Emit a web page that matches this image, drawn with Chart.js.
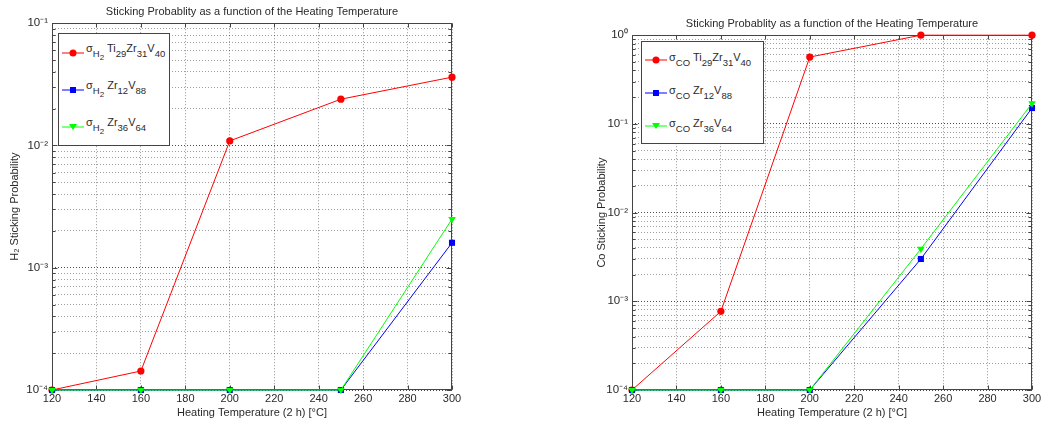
<!DOCTYPE html>
<html>
<head>
<meta charset="utf-8">
<title>Sticking Probability</title>
<script src="https://cdn.jsdelivr.net/npm/chart.js@4.4.1/dist/chart.umd.min.js"></script>
<style>
  body { margin: 0; background: #fff; width: 1044px; height: 424px; overflow: hidden; font-family: "Liberation Sans", Arial, sans-serif; }
  .panel { position: absolute; top: 0; height: 424px; }
  #panel-h2 { left: 0; width: 500px; }
  #panel-co { left: 560px; width: 484px; }
  .legend { position: absolute; background: #fff; border: 1px solid #444; box-sizing: border-box; }
  #panel-h2 .legend { left: 58px; top: 33px; width: 112px; height: 113px; }
  #panel-co .legend { left: 81px; top: 41px; width: 123px; height: 103px; padding-top: 1px; }
  .legend .row { display: flex; align-items: center; }
  #panel-h2 .row { height: 37px; }
  #panel-co .row { height: 33px; }
  .legend svg { margin-left: 3px; flex: none; }
  .legend .txt { font-size: 11px; color: #2a2a2a; margin-left: 2px; position: relative; top: -3px; white-space: nowrap; }
  .legend sub { font-size: 9.5px; vertical-align: -5px; line-height: 0; }
  .legend sub sub { font-size: 8px; vertical-align: -3px; }
</style>
</head>
<body>
<div class="panel" id="panel-h2">
  <canvas id="chartH2" width="500" height="424"></canvas>
  <div class="legend" id="legend-h2"></div>
</div>
<div class="panel" id="panel-co">
  <canvas id="chartCO" width="484" height="424"></canvas>
  <div class="legend" id="legend-co"></div>
</div>
<script>
// --- data ---
const temps = [120, 160, 200, 250, 300];
const xTicks = [120, 140, 160, 180, 200, 220, 240, 260, 280, 300];

// H2 sticking probability
const h2Ti29Zr31V40 = [1e-4, 1.43e-4, 0.0109, 0.0239, 0.0362];
const h2Zr12V88 = [1e-4, 1e-4, 1e-4, 1e-4, 1.6e-3];
const h2Zr36V64 = [1e-4, 1e-4, 1e-4, 1e-4, 2.5e-3];
const h2Decades = [-4, -3, -2, -1];
const h2Labels = [
  'σ<sub>H<sub>2</sub></sub> Ti<sub>29</sub>Zr<sub>31</sub>V<sub>40</sub>',
  'σ<sub>H<sub>2</sub></sub> Zr<sub>12</sub>V<sub>88</sub>',
  'σ<sub>H<sub>2</sub></sub> Zr<sub>36</sub>V<sub>64</sub>'
];

// CO sticking probability
const coTi29Zr31V40 = [1e-4, 7.7e-4, 0.567, 1, 1];
const coZr12V88 = [1e-4, 1e-4, 1e-4, 3.0e-3, 0.151];
const coZr36V64 = [1e-4, 1e-4, 1e-4, 3.9e-3, 0.17];
const coDecades = [-4, -3, -2, -1, 0];
const coLabels = [
  'σ<sub>CO</sub> Ti<sub>29</sub>Zr<sub>31</sub>V<sub>40</sub>',
  'σ<sub>CO</sub> Zr<sub>12</sub>V<sub>88</sub>',
  'σ<sub>CO</sub> Zr<sub>36</sub>V<sub>64</sub>'
];

const titleText = 'Sticking Probablity as a function of the Heating Temperature';
const xTitle = 'Heating Temperature (2 h) [°C]';

// --- styles ---
const colors = ['#ff0000', '#0000ff', '#00ff00'];
const markers = [
  { style: 'circle', radius: 3.6, rotation: 0 },
  { style: 'rect', radius: 4.3, rotation: 0 },
  { style: 'triangle', radius: 4.3, rotation: 180 }
];
const FONT = '"Liberation Sans", Arial, sans-serif';
const TEXT = '#2a2a2a';

const SUP = { '-': '⁻', '0': '⁰', '1': '¹', '2': '²', '3': '³', '4': '⁴', '5': '⁵' };
const powLabel = e => '10' + String(e).split('').map(c => SUP[c]).join('');
const isDecade = v => { const e = Math.log10(v); return Math.abs(e - Math.round(e)) < 1e-6; };

// 1..9 x 10^n for every decade, ending at the top decade
function logTicks(decades) {
  const out = [];
  for (let i = 0; i < decades.length - 1; i++) {
    for (let m = 1; m <= 9; m++) out.push(Number((m * Math.pow(10, decades[i])).toPrecision(10)));
  }
  out.push(Math.pow(10, decades[decades.length - 1]));
  return out;
}

// box round the plot and small inward tick marks (matlab style)
const framePlugin = {
  id: 'frame',
  beforeDatasetsDraw(chart) {
    const { ctx, chartArea: a, scales } = chart;
    const L = Math.round(a.left) + 0.5, R = Math.round(a.right) - 0.5;
    const T = Math.round(a.top) + 0.5, B = Math.round(a.bottom) - 0.5;
    ctx.save();
    ctx.strokeStyle = '#444';
    ctx.lineWidth = 1;
    ctx.beginPath();
    scales.x.ticks.forEach(t => {
      const px = Math.round(scales.x.getPixelForValue(t.value)) + 0.5;
      ctx.moveTo(px, B); ctx.lineTo(px, B - 4);
      ctx.moveTo(px, T); ctx.lineTo(px, T + 4);
    });
    scales.y.ticks.forEach(t => {
      const len = isDecade(t.value) ? 5 : 3;
      const py = Math.round(scales.y.getPixelForValue(t.value)) + 0.5;
      ctx.moveTo(L, py); ctx.lineTo(L + len, py);
      ctx.moveTo(R, py); ctx.lineTo(R - len, py);
    });
    ctx.stroke();
    ctx.strokeRect(L, T, R - L, B - T);
    ctx.restore();
  }
};

function buildLegend(el, labels) {
  labels.forEach((html, i) => {
    const c = colors[i];
    let mark;
    if (markers[i].style === 'circle') mark = `<circle cx="11" cy="6" r="3.5" fill="${c}"/>`;
    else if (markers[i].style === 'rect') mark = `<rect x="8" y="3" width="6" height="6" fill="${c}"/>`;
    else mark = `<polygon points="7,3 15,3 11,9" fill="${c}"/>`;
    const row = document.createElement('div');
    row.className = 'row';
    row.innerHTML = `<svg width="22" height="12"><line x1="0" y1="6" x2="22" y2="6" stroke="${c}" stroke-width="1"/>${mark}</svg><span class="txt">${html}</span>`;
    el.appendChild(row);
  });
}

function makeChart(id, series, decades, yTitle, opt) {
  const yValues = logTicks(decades);
  const datasets = series.map((vals, i) => ({
    data: temps.map((t, k) => ({ x: t, y: vals[k] })),
    borderColor: colors[i],
    backgroundColor: colors[i],
    borderWidth: 1,
    pointStyle: markers[i].style,
    pointRadius: markers[i].radius,
    pointRotation: markers[i].rotation,
    pointBorderWidth: 0,
    order: series.length - i,
    clip: false
  }));
  return new Chart(document.getElementById(id), {
    type: 'line',
    data: { datasets },
    plugins: [framePlugin],
    options: {
      responsive: false,
      animation: false,
      devicePixelRatio: 1,
      layout: { padding: { left: 0, right: opt.padRight, top: 0, bottom: 4 } },
      plugins: {
        legend: { display: false },
        tooltip: { enabled: false },
        title: {
          display: true, text: titleText, color: TEXT, fullSize: false,
          font: { family: FONT, size: 11, weight: 'normal' },
          padding: { top: opt.titleTop, bottom: opt.titleBottom }
        }
      },
      scales: {
        x: {
          type: 'linear', min: temps[0], max: temps[temps.length - 1],
          afterBuildTicks: s => { s.ticks = xTicks.map(v => ({ value: v })); },
          afterFit: s => { s.height = 30; },
          ticks: { color: TEXT, font: { family: FONT, size: 11 }, padding: 2, autoSkip: false, maxRotation: 0 },
          grid: { color: 'rgba(0,0,0,0.42)', drawTicks: false },
          border: { display: false, dash: [1, 2] },
          title: { display: true, text: xTitle, color: TEXT, font: { family: FONT, size: 11 }, padding: { top: 0, bottom: 0 } }
        },
        y: {
          type: 'logarithmic',
          min: Math.pow(10, decades[0]), max: Math.pow(10, decades[decades.length - 1]),
          afterBuildTicks: s => { s.ticks = yValues.map(v => ({ value: v })); },
          afterFit: s => { s.width = opt.yWidth; },
          ticks: {
            color: TEXT, font: { family: FONT, size: 11.5 }, padding: 4, autoSkip: false,
            callback: v => isDecade(v) ? powLabel(Math.round(Math.log10(v))) : ''
          },
          grid: {
            drawTicks: false,
            color: c => (c.tick && isDecade(c.tick.value)) ? 'rgba(0,0,0,0.7)' : 'rgba(0,0,0,0.38)'
          },
          border: { display: false, dash: [1, 2] },
          title: { display: true, text: yTitle, color: TEXT, font: { family: FONT, size: 11 }, padding: { top: opt.yTitlePad } }
        }
      }
    }
  });
}

makeChart('chartH2', [h2Ti29Zr31V40, h2Zr12V88, h2Zr36V64], h2Decades, 'H₂ Sticking Probability',
  { padRight: 48, titleTop: 5, titleBottom: 5, yWidth: 52, yTitlePad: 8 });
makeChart('chartCO', [coTi29Zr31V40, coZr12V88, coZr36V64], coDecades, 'Co Sticking Probability',
  { padRight: 12, titleTop: 17, titleBottom: 5, yWidth: 72, yTitlePad: 35 });

buildLegend(document.getElementById('legend-h2'), h2Labels);
buildLegend(document.getElementById('legend-co'), coLabels);
</script>
</body>
</html>
